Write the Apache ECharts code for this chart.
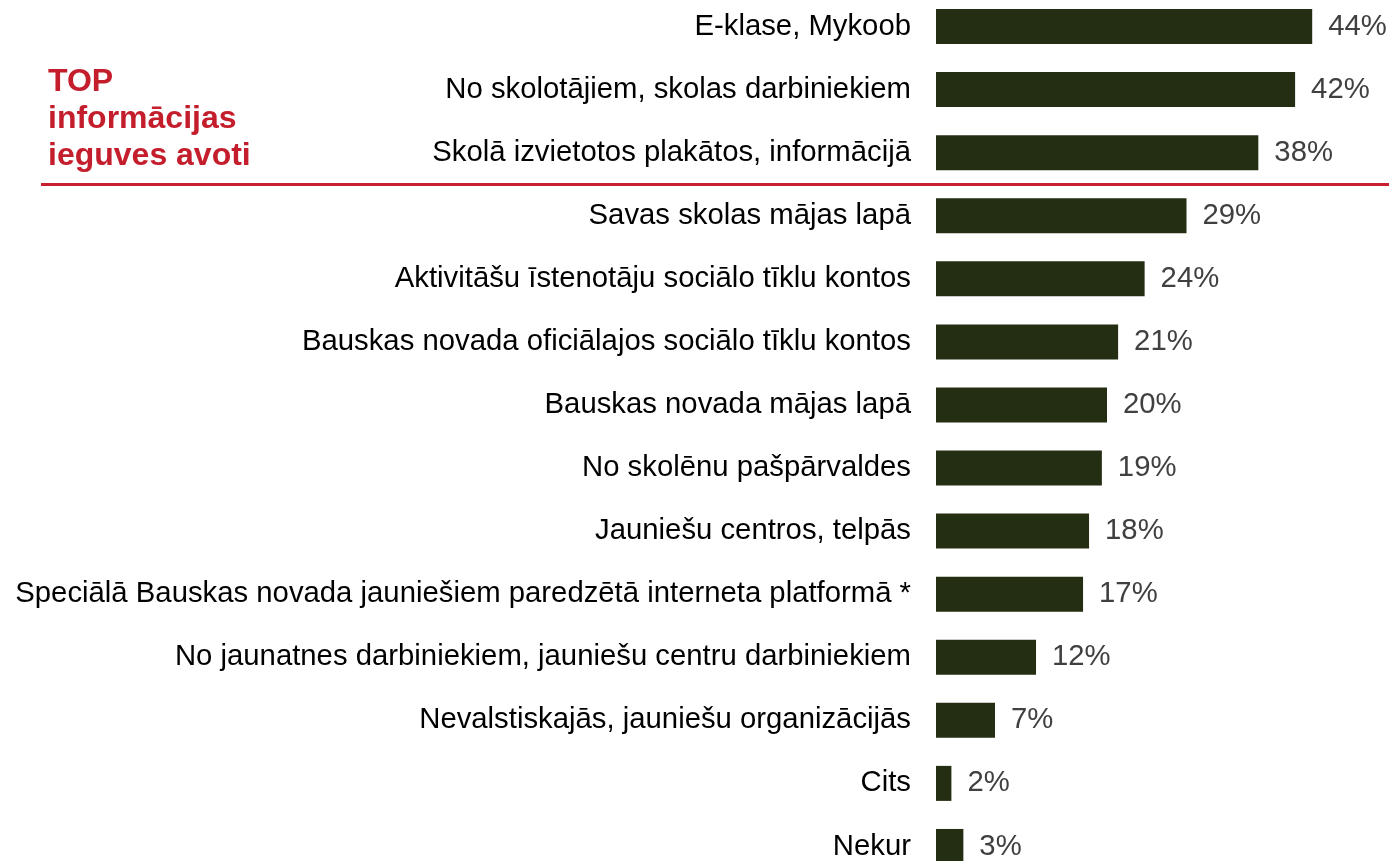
<!DOCTYPE html>
<html>
<head>
<meta charset="utf-8">
<script src="https://cdn.jsdelivr.net/npm/echarts@6/dist/echarts.min.js"></script>
<style>
  html, body { margin: 0; padding: 0; background: #fff; }
  #chart { width: 1389px; height: 861px; }
</style>
</head>
<body>
<div id="chart"></div>
<script>
'use strict';

// informācijas ieguves avoti
const categories = [
    'E-klase, Mykoob',
    'No skolotājiem, skolas darbiniekiem',
    'Skolā izvietotos plakātos, informācijā',
    'Savas skolas mājas lapā',
    'Aktivitāšu īstenotāju sociālo tīklu kontos',
    'Bauskas novada oficiālajos sociālo tīklu kontos',
    'Bauskas novada mājas lapā',
    'No skolēnu pašpārvaldes',
    'Jauniešu centros, telpās',
    'Speciālā Bauskas novada jauniešiem paredzētā interneta platformā *',
    'No jaunatnes darbiniekiem, jauniešu centru darbiniekiem',
    'Nevalstiskajās, jauniešu organizācijās',
    'Cits',
    'Nekur'
];
const values = [44.0, 42.0, 37.7, 29.3, 24.4, 21.3, 20.0, 19.4, 17.9, 17.2, 11.7, 6.9, 1.8, 3.2];
const valueLabels = ['44%', '42%', '38%', '29%', '24%', '21%', '20%', '19%', '18%', '17%', '12%', '7%', '2%', '3%'];

const chart = echarts.init(document.getElementById('chart'));

const option = {
    animation: false,
    grid: { left: 936, right: 25.5, top: -5, height: 883, outerBoundsMode: 'none' },
    xAxis: {
        type: 'value',
        min: 0,
        max: 50,
        show: false
    },
    yAxis: {
        type: 'category',
        data: categories,
        inverse: true,
        axisLine: { show: false },
        axisTick: { show: false },
        axisLabel: {
            margin: 25,
            color: '#000',
            fontSize: 29.3,
            fontFamily: 'Liberation Sans, Arial, sans-serif',
            padding: [6, 0, 0, 0]
        }
    },
    series: [{
        type: 'bar',
        data: values,
        barWidth: 35,
        itemStyle: { color: '#242e12' },
        label: {
            show: true,
            position: 'right',
            distance: 16,
            color: '#404040',
            fontSize: 29.3,
            fontFamily: 'Liberation Sans, Arial, sans-serif',
            padding: [6, 0, 0, 0],
            formatter: p => valueLabels[p.dataIndex]
        }
    }],
    graphic: [
        {
            type: 'line',
            shape: { x1: 41, y1: 184.5, x2: 1389, y2: 184.5 },
            style: { stroke: '#c8202f', lineWidth: 3 }
        },
        {
            type: 'text',
            left: 48,
            top: 64,
            style: {
                text: 'TOP\ninformācijas\nieguves avoti',
                fill: '#c41e2d',
                font: 'bold 32px Liberation Sans, Arial, sans-serif',
                lineHeight: 37
            }
        }
    ]
};

chart.setOption(option);
</script>
</body>
</html>
